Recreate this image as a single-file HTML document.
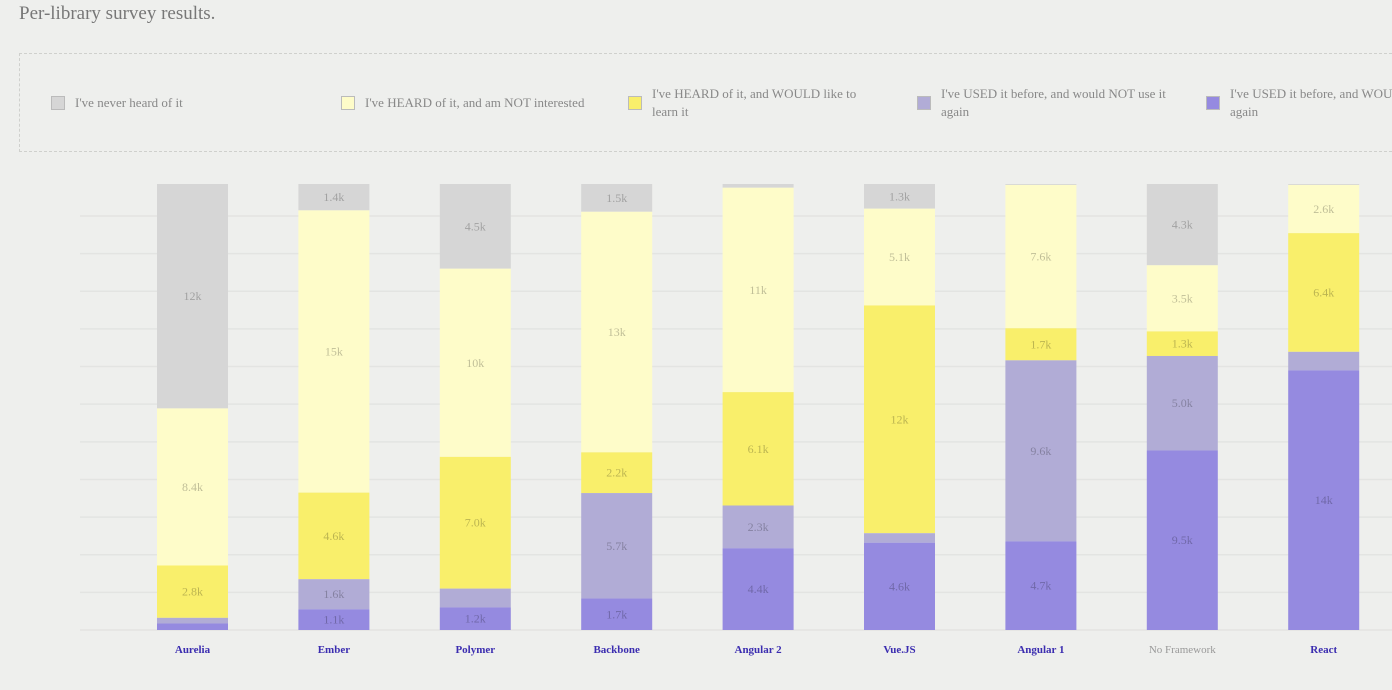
<!DOCTYPE html>
<html><head><meta charset="utf-8">
<style>
html,body{margin:0;padding:0;background:#eeefed;width:1392px;height:690px;overflow:hidden;font-family:"Liberation Serif",serif;}
#title{position:absolute;left:19px;top:3px;font-size:19px;color:#777;font-weight:300;}
#legend{position:absolute;left:19px;top:53px;width:1373px;height:99px;border:1px dashed #cfd0cd;border-right:none;box-sizing:border-box;overflow:hidden;}
.le{position:absolute;top:40px;font-size:13px;color:#888;line-height:18px;}
.sw{position:absolute;left:0;top:2px;width:14px;height:14px;border:1px solid #bbb;box-sizing:border-box;}
.lt{position:absolute;left:24px;top:0;white-space:nowrap;}
svg{position:absolute;left:0;top:0;}
</style></head><body>
<div id="title">Per-library survey results.</div>
<div id="legend"></div>
<svg id="chart" width="1392" height="690"></svg>
<script>
const categories=["Aurelia","Ember","Polymer","Backbone","Angular 2","Vue.JS","Angular 1","No Framework","React"];
const neverHeard=[12,1.4,4.5,1.5,0.2,1.3,0.05,4.3,0.05];
const heardNotInterested=[8.4,15,10,13,11,5.1,7.6,3.5,2.6];
const heardWouldLearn=[2.8,4.6,7.0,2.2,6.1,12,1.7,1.3,6.4];
const usedNotAgain=[0.3,1.6,1.0,5.7,2.3,0.5,9.6,5.0,1.0];
const usedWouldAgain=[0.35,1.1,1.2,1.7,4.4,4.6,4.7,9.5,14];
const seriesNames=["I've never heard of it","I've HEARD of it, and am NOT interested","I've HEARD of it, and WOULD like to learn it","I've USED it before, and would NOT use it again","I've USED it before, and WOULD use it again"];
const series=[neverHeard,heardNotInterested,heardWouldLearn,usedNotAgain,usedWouldAgain];
const colors=["#d6d6d6","#fefcc9","#f9ef6b","#b1acd6","#958ae0"];

const legend=document.getElementById('legend');
const lx=[31,321,608,897,1186];
const lw=[240,260,215,235,235];
seriesNames.forEach((n,i)=>{
  const e=document.createElement('div');e.className='le';e.style.left=lx[i]+'px';
  
  
  const s=document.createElement('div');s.className='sw';s.style.background=colors[i];
  
  
  const t=document.createElement('div');t.className='lt';t.textContent=n;
  
  
  if(i>=2){t.style.whiteSpace='normal';t.style.width=lw[i]+'px';t.style.top='-9px';}
  e.appendChild(s);e.appendChild(t);legend.appendChild(e);
});

const svg=document.getElementById('chart');const NS='http://www.w3.org/2000/svg';
const top0=184,bot=630,bw=71,x0=157,step=141.4;
function mk(tag,a){const el=document.createElementNS(NS,tag);for(const k in a)el.setAttribute(k,a[k]);svg.appendChild(el);return el;}
for(let k=0;k<12;k++){const y=bot-k*(bot-top0)/11.85;
  const g=mk('line',{x1:80,x2:1392,y1:y,y2:y,stroke:'#e3e4e2','stroke-width':1.5});
  
  }
function xPos(i){return x0+i*step;}
function fmt(v){return v>=10?Math.round(v)+'k':v.toFixed(1)+'k';}
categories.forEach((c,i)=>{
  let tot=0;series.forEach(s=>tot+=s[i]);
  let y=top0;
  series.forEach((s,j)=>{
    const h=s[i]/tot*(bot-top0);
    const r=mk('rect',{x:xPos(i),y:y,width:bw,height:h,fill:colors[j]});
    
    
    if(s[i]>=1.1){
      const t=mk('text',{x:xPos(i)+bw/2,y:y+h/2+4,'text-anchor':'middle','font-size':12,fill:'rgba(0,0,0,0.25)','font-family':'Liberation Serif, serif'});
      t.textContent=fmt(s[i]);
      
      
    }
    y+=h;
  });
  const nf=c==="No Framework";
  const l=mk('text',{x:xPos(i)+bw/2,y:653,'text-anchor':'middle','font-size':11,'font-weight':nf?'normal':'bold',fill:nf?'#999':'#3b2db0','font-family':'Liberation Serif, serif'});
  l.textContent=c;
  
  
});
</script>
</body></html>
